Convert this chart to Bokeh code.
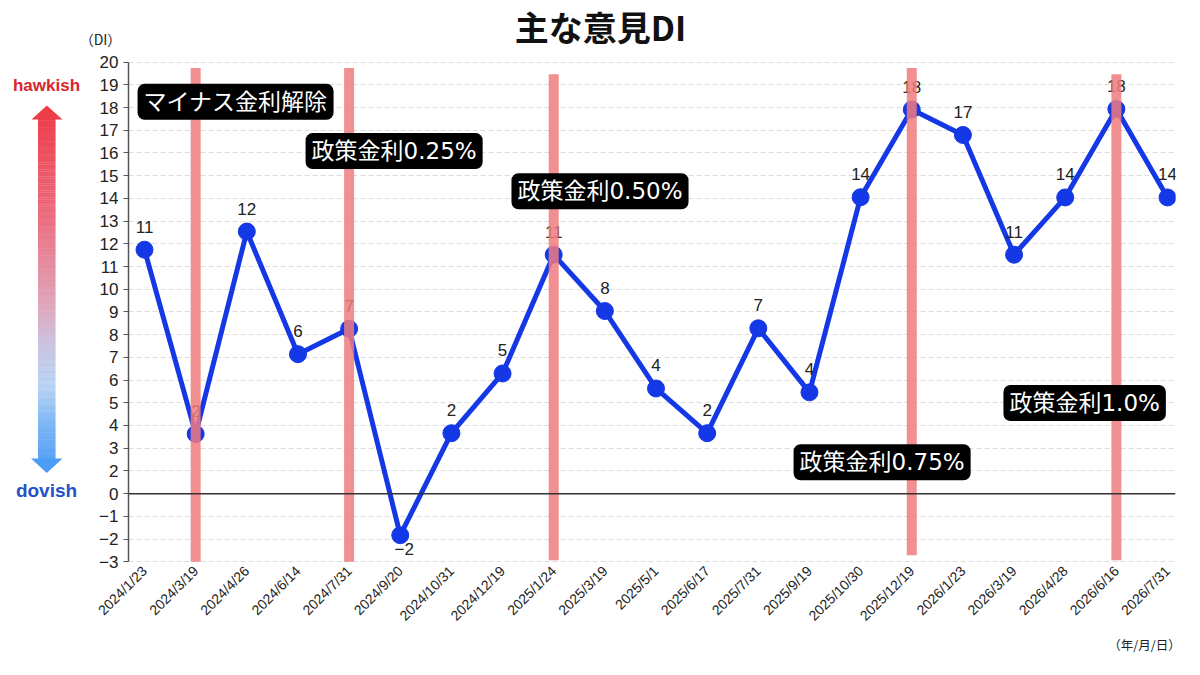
import math
from bokeh.plotting import figure
from bokeh.layouts import column, row
from bokeh.models import Range1d, FixedTicker, Span, Label, ColumnDataSource
from bokeh.core.properties import value
from bokeh.embed import file_html
from bokeh.resources import INLINE

# ---------------- data ----------------
dates = ["2024/1/23", "2024/3/19", "2024/4/26", "2024/6/14", "2024/7/31",
         "2024/9/20", "2024/10/31", "2024/12/19", "2025/1/24", "2025/3/19",
         "2025/5/1", "2025/6/17", "2025/7/31", "2025/9/19", "2025/10/30",
         "2025/12/19", "2026/1/23", "2026/3/19", "2026/4/28", "2026/6/16",
         "2026/7/31"]
# values printed next to each point
di_labels = [11, 2, 12, 6, 7, -2, 2, 5, 11, 8, 4, 2, 7, 4, 14, 18, 17, 11, 14, 18, 14]
# height at which each point is drawn (in axis-grid units)
di_plotted = [11.74, 3.63, 12.54, 7.14, 8.26, -0.83, 3.66, 6.29, 11.52, 9.04, 5.63,
              3.66, 8.28, 5.46, 14.05, 17.91, 16.79, 11.52, 14.04, 17.93, 14.04]
# y tick labels, top to bottom (the axis has no "1")
y_tick_labels = ["20", "19", "18", "17", "16", "15", "14", "13", "12", "11", "10",
                 "9", "8", "7", "6", "5", "4", "3", "2", "0", "−1", "−2", "−3"]
# policy events
event_dates = ["2024/3/19", "2024/7/31", "2025/1/24", "2025/12/19", "2026/6/16"]
event_texts = ["マイナス金利解除", "政策金利0.25%", "政策金利0.50%", "政策金利0.75%", "政策金利1.0%"]
event_top = [19.74, 19.74, 19.46, 19.74, 19.46]
event_bottom = [-2.0, -2.0, -1.93, -1.71, -1.93]
event_box_x = [1.78, 4.88, 8.905, 14.42, 18.38]
event_box_y = [18.25, 16.08, 14.31, 2.38, 4.99]

title_text = "主な意見DI"
y_unit_text = "（DI）"
x_unit_text = "（年/月/日）"

JP = "Noto Sans CJK JP"
SANS = "Liberation Sans"
BOXFONT = "DejaVu Sans, Noto Sans CJK JP"

TOP_H = 51      # height of the title strip
MAIN_BOTTOM = 632


def blank(w, h, xr, yr):
    f = figure(width=w, height=h, output_backend="svg", toolbar_location=None,
               x_axis_type=None, y_axis_type=None, x_range=Range1d(*xr),
               y_range=Range1d(*yr), min_border=0, background_fill_color="white",
               border_fill_color="white")
    f.outline_line_color = None
    return f


# ---------------- top strip: title & unit ----------------
top = blank(1184, TOP_H, (0, 1184), (TOP_H, 0))
top.text(x=[600], y=[25.5], text=[title_text], text_align="center", text_baseline="middle",
         text_font=value(JP), text_font_style="bold", text_font_size="34px",
         text_color="#111111")
top.text(x=[100], y=[38], text=[y_unit_text], text_align="center", text_baseline="middle",
         text_font=value(JP), text_font_size="14px", text_color="#222222")

# ---------------- left strip: hawkish / dovish arrow ----------------
left = blank(88, MAIN_BOTTOM - TOP_H, (0, 88), (MAIN_BOTTOM, TOP_H))
stops = [(108, (0xEE, 0x3A, 0x47)), (220, (0xEC, 0x66, 0x77)), (335, (0xE0, 0xA5, 0xBA)),
         (380, (0xCA, 0xC3, 0xE0)), (428, (0xB6, 0xD3, 0xF3)), (472, (0x7D, 0xB5, 0xF5)),
         (527, (0x4A, 0x9C, 0xF7))]


def grad(py):
    for (a, ca), (b, cb) in zip(stops[:-1], stops[1:]):
        if a <= py <= b:
            f = (py - a) / (b - a)
            return "#%02x%02x%02x" % tuple(round(ca[k] + (cb[k] - ca[k]) * f) for k in range(3))
    return "#%02x%02x%02x" % (stops[0][1] if py < stops[0][0] else stops[-1][1])


step = 2
tops = list(range(123, 512, step))
left.quad(left=37.5, right=55, top=tops, bottom=[t + step + 0.5 for t in tops],
          fill_color=[grad(t + step / 2) for t in tops], line_color=None)
left.patches(xs=[[31, 46.3, 62], [30.5, 46.3, 62]], ys=[[124, 108, 124], [511, 527.5, 511]],
             fill_color=[grad(112), grad(525)], line_color=None)
left.text(x=[46, 46], y=[85, 547], text=["hawkish", "dovish"], text_align="center",
          text_baseline="middle", text_font=value(SANS), text_font_style="bold",
          text_font_size=["17px", "19px"], text_color=["#D6262E", "#2452C8"])

# ---------------- main chart ----------------
xs = list(range(len(dates)))
tick_pos = [20 - i for i in range(len(y_tick_labels))]
zero_pos = tick_pos[y_tick_labels.index("0")]

p = figure(width=1096, height=MAIN_BOTTOM - TOP_H, output_backend="svg",
           toolbar_location=None,
           x_range=Range1d(-0.313, 20.156), y_range=Range1d(-2.12, 20.29),
           min_border_left=40, min_border_right=9, min_border_top=55 - TOP_H,
           min_border_bottom=MAIN_BOTTOM - 566, background_fill_color="white",
           border_fill_color="white")
p.outline_line_color = None

p.xaxis.ticker = FixedTicker(ticks=xs)
p.xaxis.major_label_overrides = {i: d for i, d in enumerate(dates)}
p.xaxis.major_label_orientation = math.pi / 4
p.xaxis.axis_line_color = None
p.xaxis.major_tick_line_color = None
p.xaxis.major_tick_out = 0
p.xaxis.major_tick_in = 0
p.xaxis.minor_tick_line_color = None
p.xaxis.minor_tick_out = 0
p.xaxis.major_label_text_font = SANS
p.xaxis.major_label_text_font_size = "14px"
p.xaxis.major_label_text_color = "#222222"
p.xaxis.major_label_standoff = 4

p.yaxis.ticker = FixedTicker(ticks=tick_pos)
p.yaxis.major_label_overrides = {t: l for t, l in zip(tick_pos, y_tick_labels)}
p.yaxis.bounds = (min(tick_pos), max(tick_pos))
p.yaxis.axis_line_color = "#555555"
p.yaxis.axis_line_width = 1.5
p.yaxis.major_tick_line_color = "#555555"
p.yaxis.major_tick_out = 5
p.yaxis.major_tick_in = 0
p.yaxis.minor_tick_line_color = None
p.yaxis.major_label_text_font = SANS
p.yaxis.major_label_text_font_size = "17px"
p.yaxis.major_label_text_color = "#222222"
p.yaxis.major_label_standoff = 5

p.xgrid.grid_line_color = None
p.ygrid.grid_line_color = "#dcdcdc"
p.ygrid.grid_line_dash = "5 3"
p.ygrid.grid_line_width = 1

p.add_layout(Span(location=zero_pos, dimension="width", line_color="#333333",
                  line_width=1.5))

blue = "#1538E6"
p.line(xs, di_plotted, line_color=blue, line_width=5)
p.scatter(xs, di_plotted, size=17, fill_color=blue, line_color=blue)

lab_src = ColumnDataSource(dict(
    x=xs, y=di_plotted, t=[str(v).replace("-", "−") for v in di_labels],
    yo=[14 if v < 0 else -23 for v in di_labels],
    xo=[4 if v < 0 else 0 for v in di_labels]))
p.text(x="x", y="y", text="t", source=lab_src, x_offset="xo", y_offset="yo",
       text_align="center", text_baseline="middle", text_font=value(SANS),
       text_font_size="17px", text_color="#222222")

ev_x = [dates.index(d) for d in event_dates]
p.segment(x0=ev_x, y0=event_bottom, x1=ev_x, y1=event_top,
          line_color="#F07B7E", line_alpha=0.85, line_width=10)

for t, bx, by in zip(event_texts, event_box_x, event_box_y):
    p.add_layout(Label(x=bx, y=by, text=t, text_align="center",
                       text_baseline="middle", text_font=BOXFONT,
                       text_font_size="23px", text_color="white",
                       background_fill_color="black", background_fill_alpha=1.0,
                       padding=(6, 5), border_radius=7))

# ---------------- bottom strip: x unit ----------------
bottom = blank(1184, 659 - MAIN_BOTTOM, (0, 1184), (659, MAIN_BOTTOM))
bottom.text(x=[1144], y=[644], text=[x_unit_text], text_align="center",
            text_baseline="middle", text_font=value(JP), text_font_size="12.5px",
            text_color="#222222")

layout = column(top, row(left, p), bottom)
open("out.html", "w").write(file_html(layout, INLINE))
